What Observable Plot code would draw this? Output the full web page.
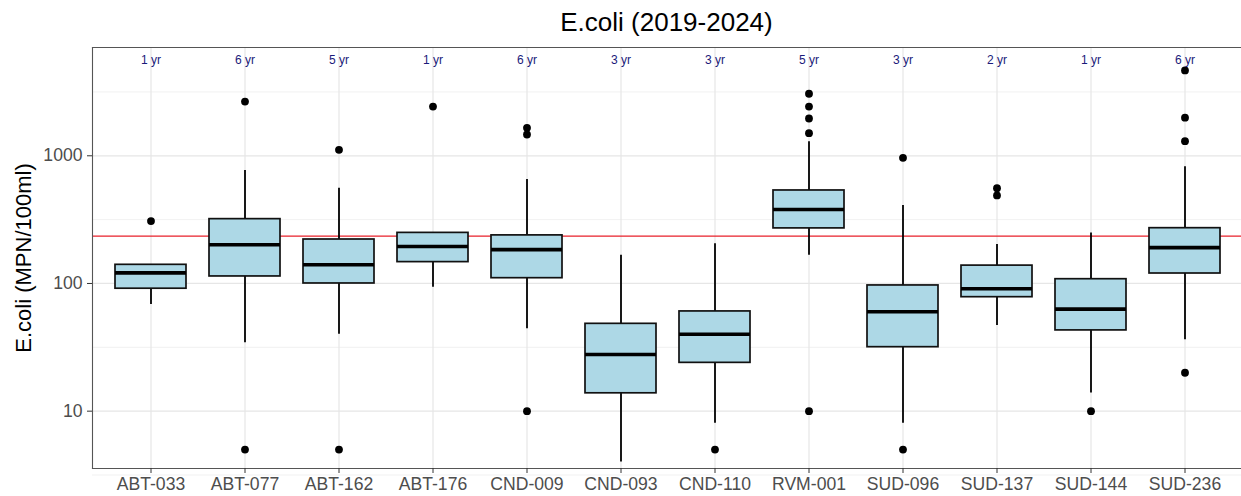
<!DOCTYPE html>
<html>
<head>
<meta charset="utf-8">
<script src="https://cdn.jsdelivr.net/npm/d3@7"></script>
<script src="https://cdn.jsdelivr.net/npm/@observablehq/plot@0.6"></script>
<style>
  html, body { margin: 0; padding: 0; background: #fff; overflow: hidden; }
  #title { height: 40px; box-sizing: border-box; padding-left: 92px; width: 1241px;
    font-family: "Liberation Sans", Arial, sans-serif; font-size: 26px; color: #000;
    text-align: center; line-height: 26px; padding-top: 9px; }
</style>
</head>
<body>
<div id="title">E.coli (2019-2024)</div>
<div id="chart"></div>
<script>
const sites = ["ABT-033","ABT-077","ABT-162","ABT-176","CND-009","CND-093","CND-110","RVM-001","SUD-096","SUD-137","SUD-144","SUD-236"];
const years = [1,6,5,1,6,3,3,5,3,2,1,6];
const whiskerLow  = [68.5, 34.3, 40, 93.6, 44.2, 4.0, 8.06, 166, 8.06, 46.9, 13.9, 36.2];
const q1          = [91, 113.5, 100, 147, 110, 13.8, 23.9, 270, 31.7, 78.1, 42.9, 119.7];
const median      = [121, 201, 140, 195, 184, 27.8, 40, 380, 60, 91, 63, 191];
const q3          = [140, 319, 221, 249, 238, 48.3, 60.4, 535, 96.5, 138, 108, 271];
const whiskerHigh = [140, 767, 557, 249, 652, 166, 205, 1287, 408, 202, 248, 820];
const outliers = [
  [308],
  [2660, 5.0],
  [1114, 5.0],
  [2430],
  [1656, 1468, 10],
  [],
  [5.0],
  [3060, 2430, 1958, 1503, 10],
  [964, 5.0],
  [557, 489],
  [10],
  [4660, 1987, 1301, 20]
];
const threshold = 235;
const majorTicks = [10, 100, 1000];
const minorTicks = [3.162, 31.62, 316.2, 3162];

const boxes = sites.map((s, i) => ({site: s, lo: whiskerLow[i], q1: q1[i], med: median[i], q3: q3[i], hi: whiskerHigh[i], yrs: years[i] + " yr"}));
const outs = sites.flatMap((s, i) => outliers[i].map(v => ({site: s, v})));

const W = 1241, H = 456;
const labelY = 5650;
const font = "Liberation Sans, Arial, sans-serif";

const chart = Plot.plot({
  width: W, height: H,
  marginTop: 7, marginBottom: 28, marginLeft: 92, marginRight: -1,
  style: {fontFamily: font, background: "#fff"},
  x: {type: "band", domain: sites, paddingInner: 0.25, paddingOuter: 0.225, axis: null},
  y: {type: "log", domain: [Math.pow(10, 0.551), Math.pow(10, 3.848)], axis: null},
  marks: [
    Plot.ruleY(minorTicks, {stroke: "#ebebeb", strokeWidth: 0.7}),
    Plot.ruleY(majorTicks, {stroke: "#e6e6e6", strokeWidth: 1.2}),
    Plot.ruleX(sites, {x: d => d, stroke: "#e6e6e6", strokeWidth: 1.2}),
    Plot.ruleY([threshold], {stroke: "#e8202a", strokeWidth: 1.4}),
    Plot.ruleX(boxes, {x: "site", y1: "lo", y2: "hi", stroke: "#000", strokeWidth: 1.8}),
    Plot.barY(boxes, {x: "site", y1: "q1", y2: "q3", fill: "#add8e6", stroke: "#111", strokeWidth: 1.7}),
    Plot.tickY(boxes, {x: "site", y: "med", stroke: "#000", strokeWidth: 3.6}),
    Plot.dot(outs, {x: "site", y: "v", r: 3.9, fill: "#000", stroke: "none"}),
    Plot.text(boxes, {x: "site", y: () => labelY, text: "yrs", fill: "#1a1a7a", fontSize: 12}),
    Plot.frame({anchor: "top", stroke: "#555", strokeWidth: 1.1}),
    Plot.frame({anchor: "left", stroke: "#555", strokeWidth: 1.1}),
    Plot.frame({anchor: "bottom", stroke: "#555", strokeWidth: 1.1}),
    Plot.axisY(majorTicks, {tickSize: 5, tickPadding: 5, stroke: "#333", tickFormat: d => String(d), fontSize: 17.6, fill: "#4d4d4d", label: null}),
    Plot.axisX({tickSize: 5, tickPadding: 4, stroke: "#333", fontSize: 17.6, fill: "#4d4d4d", label: null}),
    Plot.text([0], {frameAnchor: "left", textAnchor: "middle", text: () => "E.coli (MPN/100ml)", rotate: -90, dx: -69, fontSize: 22, fill: "#000"})
  ]
});
document.getElementById("chart").appendChild(chart);
</script>
</body>
</html>
